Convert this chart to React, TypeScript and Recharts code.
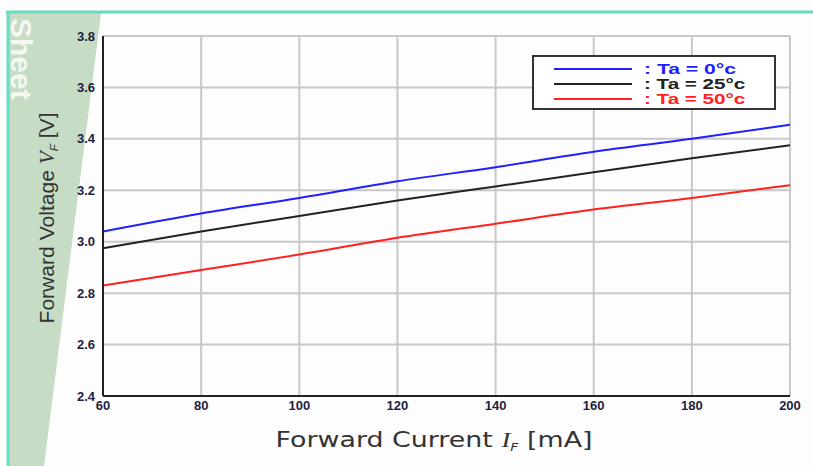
import React from 'react';
import { LineChart, Line, XAxis, YAxis, CartesianGrid } from 'recharts';

const currents = [60, 80, 100, 120, 140, 160, 180, 200];
const vf0 = [3.04, 3.11, 3.17, 3.235, 3.29, 3.35, 3.40, 3.455];
const vf25 = [2.975, 3.04, 3.10, 3.16, 3.215, 3.27, 3.325, 3.375];
const vf50 = [2.83, 2.89, 2.95, 3.015, 3.07, 3.125, 3.17, 3.22];
const xTicks = [60, 80, 100, 120, 140, 160, 180, 200];
const yTicks = [2.4, 2.6, 2.8, 3.0, 3.2, 3.4, 3.6, 3.8];

const series = [
    { key: 'vf0', label: ': Ta = 0°c', color: '#2020ff' },
    { key: 'vf25', label: ': Ta = 25°c', color: '#222222' },
    { key: 'vf50', label: ': Ta = 50°c', color: '#ff2020' },
];

const data = currents.map((c, i) => ({ current: c, vf0: vf0[i], vf25: vf25[i], vf50: vf50[i] }));

const tickStyle = { fill: '#1e1e44', fontSize: 13, fontWeight: 700, fontFamily: 'Liberation Sans, Arial, sans-serif' };

function LegendBox() {
    return (
        <svg width={244} height={55} style={{ display: 'block' }}>
            <rect x={1} y={1} width={242} height={53} fill="#fff" stroke="#333" strokeWidth={2} />
            {series.map((s, i) => (
                <g key={s.key}>
                    <line x1={22} x2={100} y1={14 + i * 15} y2={14 + i * 15} stroke={s.color} strokeWidth={2} />
                    <text x={112} y={19 + i * 15} fill={s.color} fontSize={14} fontWeight={700}
                        textLength={s.label.length * 9.2} lengthAdjust="spacingAndGlyphs"
                        fontFamily="Liberation Sans, Arial, sans-serif">{s.label}</text>
                </g>
            ))}
        </svg>
    );
}

export default function App() {
    return (
        <div style={{ position: 'absolute', left: 0, top: 0, width: 813, height: 466, background: '#fdfdfd', overflow: 'hidden' }}>
            <svg width={813} height={466} style={{ position: 'absolute', left: 0, top: 0 }}>
                <polygon points="9,13 101,13 44,466 9,466" fill="#c6dcc5" />
                <text x={11} y={18} transform="rotate(90 11 18)" fontSize={30} fontWeight={700} fill="#f4f8f2"
                    fontFamily="Liberation Sans, Arial, sans-serif">Sheet</text>
                <line x1={6} x2={813} y1={12} y2={12} stroke="#66dcc2" strokeWidth={3} />
                <line x1={8} x2={8} y1={12} y2={466} stroke="#66dcc2" strokeWidth={3} />
            </svg>
            <div style={{ position: 'absolute', left: 0, top: 0 }}>
                <LineChart width={813} height={466} data={data} margin={{ top: 36, right: 23, left: 43, bottom: 0 }}>
                    <CartesianGrid stroke="#c8c8c8" strokeWidth={2} />
                    <XAxis dataKey="current" type="number" domain={[60, 200]} ticks={xTicks} height={70}
                        tick={tickStyle} tickLine={false} axisLine={{ stroke: '#222', strokeWidth: 2 }} tickMargin={-1} />
                    <XAxis xAxisId="top" orientation="top" type="number" domain={[60, 200]} height={0}
                        tick={false} tickLine={false} axisLine={{ stroke: '#333', strokeWidth: 2 }} />
                    <YAxis type="number" domain={[2.4, 3.8]} ticks={yTicks} width={60}
                        tick={tickStyle} tickLine={false} tickFormatter={(v: number) => v.toFixed(1)}
                        axisLine={{ stroke: '#222', strokeWidth: 2 }} tickMargin={2} />
                    <YAxis yAxisId="right" orientation="right" type="number" domain={[2.4, 3.8]} width={0}
                        tick={false} tickLine={false} axisLine={{ stroke: '#222', strokeWidth: 3 }} />
                    {series.map((s) => (
                        <Line key={s.key} dataKey={s.key} stroke={s.color} strokeWidth={2} dot={false}
                            type="monotone" isAnimationActive={false} />
                    ))}
                </LineChart>
            </div>
            <div style={{ position: 'absolute', left: 532, top: 55 }}>
                <LegendBox />
            </div>
            <svg width={813} height={466} style={{ position: 'absolute', left: 0, top: 0, pointerEvents: 'none' }}>
                <text x={0} y={0} transform="translate(54 218) rotate(-90)" textAnchor="middle" fontSize={20} fill="#333"
                    textLength={211} lengthAdjust="spacingAndGlyphs"
                    fontFamily="Liberation Sans, Arial, sans-serif">
                    Forward Voltage <tspan fontStyle="italic" fontFamily="Liberation Serif, serif">V</tspan>
                    <tspan fontSize={11} dy={4} fontStyle="italic">F</tspan>
                    <tspan dy={-4}> [V]</tspan>
                </text>
                <text x={434} y={447} textAnchor="middle" fontSize={21} fill="#333" fontFamily="DejaVu Sans, sans-serif"
                    textLength={317} lengthAdjust="spacingAndGlyphs">
                    Forward Current <tspan fontStyle="italic" fontFamily="Liberation Serif, serif">I</tspan>
                    <tspan fontSize={11} dy={4} fontStyle="italic">F</tspan>
                    <tspan dy={-4}> [mA]</tspan>
                </text>
            </svg>
        </div>
    );
}
